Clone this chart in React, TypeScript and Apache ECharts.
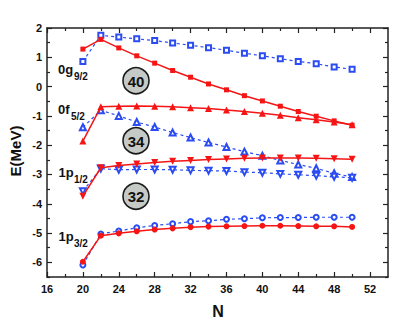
import React, { useEffect, useRef } from "react";
import * as echarts from "echarts";

const N = [20, 22, 24, 26, 28, 30, 32, 34, 36, 38, 40, 42, 44, 46, 48, 50];

const g92Red = [1.28, 1.61, 1.32, 1.05, 0.8, 0.55, 0.32, 0.09, -0.11, -0.31, -0.49, -0.67, -0.85, -1.01, -1.17, -1.32];
const g92Blue = [0.86, 1.75, 1.69, 1.63, 1.57, 1.49, 1.41, 1.33, 1.24, 1.14, 1.05, 0.95, 0.86, 0.78, 0.67, 0.59];
const f52Red = [-1.86, -0.69, -0.67, -0.66, -0.67, -0.69, -0.72, -0.75, -0.8, -0.85, -0.91, -0.98, -1.06, -1.13, -1.21, -1.3];
const f52Blue = [-1.39, -0.81, -1.0, -1.21, -1.38, -1.57, -1.74, -1.91, -2.06, -2.22, -2.36, -2.52, -2.66, -2.79, -2.96, -3.09];
const p12Red = [-3.74, -2.77, -2.69, -2.64, -2.59, -2.55, -2.52, -2.49, -2.47, -2.45, -2.44, -2.44, -2.44, -2.45, -2.46, -2.48];
const p12Blue = [-3.57, -2.8, -2.84, -2.83, -2.83, -2.84, -2.86, -2.87, -2.88, -2.92, -2.94, -2.98, -3.01, -3.04, -3.08, -3.11];
const p32Blue = [-6.09, -5.03, -4.93, -4.82, -4.74, -4.68, -4.61, -4.58, -4.53, -4.51, -4.48, -4.47, -4.47, -4.46, -4.46, -4.46];
const p32Red = [-5.98, -5.09, -5.01, -4.94, -4.88, -4.84, -4.8, -4.78, -4.77, -4.76, -4.75, -4.75, -4.76, -4.77, -4.77, -4.79];

const xMajor = [16, 20, 24, 28, 32, 36, 40, 44, 48, 52];
const xMinor = [18, 22, 26, 30, 34, 38, 42, 46, 50];
const yMajor = [-6, -5, -4, -3, -2, -1, 0, 1, 2];
const yMinor = [-6.5, -5.5, -4.5, -3.5, -2.5, -1.5, -0.5, 0.5, 1.5];

const shells = [
  { main: "0g", sub: "9/2", x: 58, y: 69, sx: 74, sy: 76.5 },
  { main: "0f", sub: "5/2", x: 58, y: 109.5, sx: 71, sy: 116.5 },
  { main: "1p", sub: "1/2", x: 58.5, y: 172, sx: 74, sy: 179 },
  { main: "1p", sub: "3/2", x: 58.5, y: 236, sx: 74, sy: 243 },
];
const magic = [
  { label: "40", x: 136, y: 80.7 },
  { label: "34", x: 136, y: 140.7 },
  { label: "32", x: 136, y: 196.2 },
];

const RED = "#f51515";
const BLUE = "#2a4cf2";
const AX = "#222";
const FONT = "'Liberation Sans', Arial, sans-serif";

function pts(vals: number[]) {
  return N.map((n, i) => [n, vals[i]]);
}

export default function App() {
  const ref = useRef<HTMLDivElement>(null);
  useEffect(() => {
    if (!ref.current) return;
    const chart = echarts.init(ref.current, undefined, { renderer: "svg" });

    const xBase = { type: "value", min: 16, max: 54, splitLine: { show: false } };
    const yBase = { type: "value", min: -6.5, max: 2, splitLine: { show: false } };
    const line = (show: boolean) => ({ show, onZero: false, lineStyle: { color: AX, width: 1.5 } });
    const tick = (vals: number[], len: number) => ({
      show: true,
      inside: true,
      length: len,
      customValues: vals,
      lineStyle: { color: AX, width: 1.2 },
    });
    const noLabel = { show: false };
    const lbl = (vals: number[], margin: number) => ({
      show: true,
      customValues: vals,
      fontSize: 11,
      fontWeight: "bold",
      color: "#111",
      fontFamily: FONT,
      margin,
    });

    const blueSeries = (vals: number[], symbol: string, size: number, rot = 0) => ({
      type: "line",
      data: pts(vals),
      symbol,
      symbolSize: size,
      symbolRotate: rot,
      showAllSymbol: true,
      lineStyle: { color: BLUE, width: 1.2, type: [3, 3] },
      itemStyle: { color: BLUE, borderColor: BLUE, borderWidth: 1.2 },
      z: 2,
    });
    const redSeries = (vals: number[], symbol: string, size: number, rot = 0) => ({
      type: "line",
      data: pts(vals),
      symbol,
      symbolSize: size,
      symbolRotate: rot,
      showAllSymbol: true,
      lineStyle: { color: RED, width: 1.5 },
      itemStyle: { color: RED },
      z: 3,
    });

    const graphics: any[] = [];
    shells.forEach((s) => {
      graphics.push({
        type: "text",
        x: s.x,
        y: s.y,
        style: { text: s.main, fontSize: 13, fontWeight: "bold", fontFamily: FONT, fill: "#111", verticalAlign: "middle", align: "left" },
      });
      graphics.push({
        type: "text",
        x: s.sx,
        y: s.sy,
        style: { text: s.sub, fontSize: 10, fontWeight: "bold", fontFamily: FONT, fill: "#111", verticalAlign: "middle", align: "left" },
      });
    });
    magic.forEach((m) => {
      graphics.push({
        type: "circle",
        shape: { cx: m.x, cy: m.y, r: 13 },
        style: { fill: "#c5cac7", stroke: "#1a1a1a", lineWidth: 1.6 },
        z: 10,
      });
      graphics.push({
        type: "text",
        x: m.x,
        y: m.y + 0.5,
        style: { text: m.label, fontSize: 15, fontWeight: "bold", fontFamily: FONT, fill: "#111", align: "center", verticalAlign: "middle" },
        z: 11,
      });
    });
    graphics.push({
      type: "text",
      x: 15,
      y: 151,
      rotation: Math.PI / 2,
      style: { text: "E(MeV)", fontSize: 15, fontWeight: "bold", fontFamily: FONT, fill: "#111", align: "center", verticalAlign: "middle" },
    });
    graphics.push({
      type: "text",
      x: 218,
      y: 311,
      style: { text: "N", fontSize: 16, fontWeight: "bold", fontFamily: FONT, fill: "#111", align: "center", verticalAlign: "middle" },
    });

    chart.setOption({
      animation: false,
      backgroundColor: "#fff",
      grid: { left: 47, right: 11, top: 28, bottom: 51 },
      xAxis: [
        { ...xBase, position: "bottom", axisLine: line(true), axisTick: tick(xMajor, 5), axisLabel: lbl(xMajor, 6) },
        { ...xBase, position: "bottom", axisLine: line(false), axisTick: tick(xMinor, 3), axisLabel: noLabel },
        { ...xBase, position: "top", axisLine: line(true), axisTick: tick(xMajor, 5), axisLabel: noLabel },
        { ...xBase, position: "top", axisLine: line(false), axisTick: tick(xMinor, 3), axisLabel: noLabel },
      ],
      yAxis: [
        { ...yBase, position: "left", axisLine: line(true), axisTick: tick(yMajor, 5), axisLabel: lbl(yMajor, 5) },
        { ...yBase, position: "left", axisLine: line(false), axisTick: tick(yMinor, 3), axisLabel: noLabel },
        { ...yBase, position: "right", axisLine: line(true), axisTick: tick(yMajor, 5), axisLabel: noLabel },
        { ...yBase, position: "right", axisLine: line(false), axisTick: tick(yMinor, 3), axisLabel: noLabel },
      ],
      series: [
        blueSeries(g92Blue, "emptyRect", 5),
        blueSeries(f52Blue, "emptyTriangle", 6),
        blueSeries(p12Blue, "emptyTriangle", 6, 180),
        blueSeries(p32Blue, "emptyCircle", 5),
        redSeries(g92Red, "rect", 5),
        redSeries(f52Red, "triangle", 7),
        redSeries(p12Red, "triangle", 7, 180),
        redSeries(p32Red, "circle", 6),
      ],
      graphic: graphics,
    });
    return () => chart.dispose();
  }, []);
  return <div ref={ref} style={{ position: "fixed", left: 0, top: 0, width: 399, height: 328 }} />;
}
